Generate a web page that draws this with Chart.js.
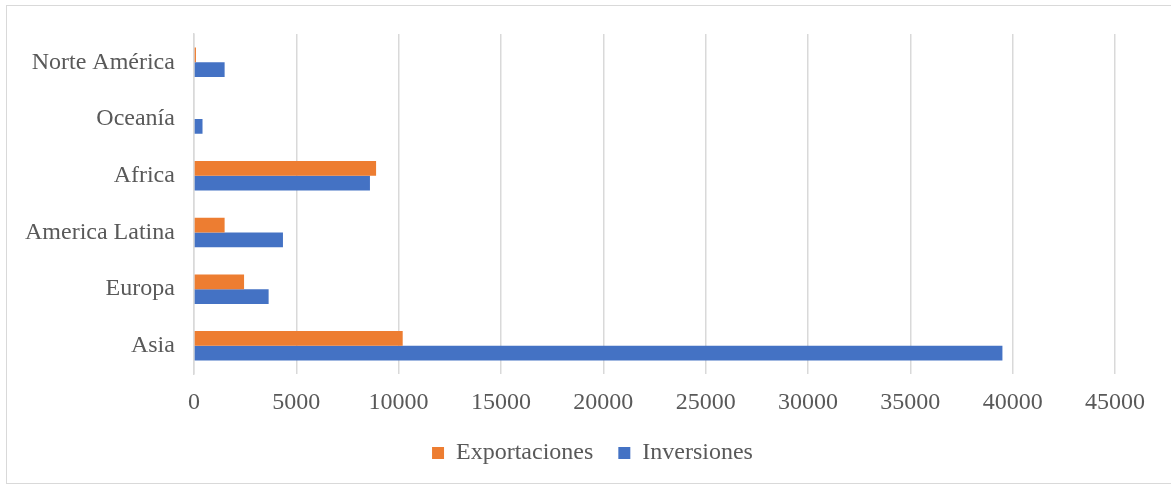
<!DOCTYPE html>
<html>
<head>
<meta charset="utf-8">
<script src="https://cdn.jsdelivr.net/npm/chart.js@4"></script>
<style>
  html, body { margin: 0; padding: 0; background: #ffffff; }
  #wrap { position: relative; width: 1171px; height: 487px; }
  #frame { position: absolute; left: 6px; top: 5px; width: 1180px; height: 479px; border: 1px solid #d9d9d9; box-sizing: border-box; }
  canvas { position: absolute; left: 0; top: 0; }
</style>
</head>
<body>
<div id="wrap">
  <div id="frame"></div>
  <canvas id="c" width="1171" height="487"></canvas>
</div>
<script>
const categories = ["Norte América", "Oceanía", "Africa", "America Latina", "Europa", "Asia"];
const exportaciones = [100, 0, 8900, 1500, 2450, 10200];
const inversiones = [1500, 420, 8600, 4350, 3650, 39500];
const seriesNames = ["Exportaciones", "Inversiones"];
const xTicks = [0, 5000, 10000, 15000, 20000, 25000, 30000, 35000, 40000, 45000];

const textColor = "#595959";
const fontFamily = "'Liberation Serif', 'Times New Roman', serif";

new Chart(document.getElementById("c"), {
  type: "bar",
  data: {
    labels: categories,
    datasets: [
      { label: seriesNames[0], data: exportaciones, backgroundColor: "#ed7d31", borderWidth: 0 },
      { label: seriesNames[1], data: inversiones, backgroundColor: "#4472c4", borderWidth: 0 }
    ]
  },
  options: {
    indexAxis: "y",
    responsive: false,
    animation: false,
    devicePixelRatio: 1,
    datasets: { bar: { categoryPercentage: 0.52, barPercentage: 1.0 } },
    layout: { padding: { left: 14, right: 0, top: 34, bottom: 12 } },
    plugins: {
      tooltip: { enabled: false },
      legend: {
        position: "bottom",
        labels: {
          boxWidth: 12, boxHeight: 12, padding: 25,
          color: textColor,
          font: { family: fontFamily, size: 24 }
        }
      }
    },
    scales: {
      x: {
        min: 0, max: 45000,
        afterBuildTicks: (axis) => { axis.ticks = xTicks.map(v => ({ value: v })); },
        afterFit: (axis) => { axis.height = axis.height - 15; },
        grid: { color: "#d9d9d9", lineWidth: 1.5, drawTicks: false },
        border: { display: false },
        ticks: { color: textColor, padding: 14, font: { family: fontFamily, size: 24 },
                 callback: (v) => String(v) }
      },
      y: {
        grid: { display: false },
        border: { display: true, color: "#d9d9d9", width: 1.5 },
        ticks: { color: textColor, padding: 11, font: { family: fontFamily, size: 24 } }
      },
      rightSpace: {
        type: "linear",
        axis: "y",
        position: "right",
        display: true,
        grid: { display: false, drawTicks: false },
        border: { display: false },
        ticks: { display: false },
        afterFit: (axis) => { axis.width = 56; }
      }
    }
  }
});
</script>
</body>
</html>
